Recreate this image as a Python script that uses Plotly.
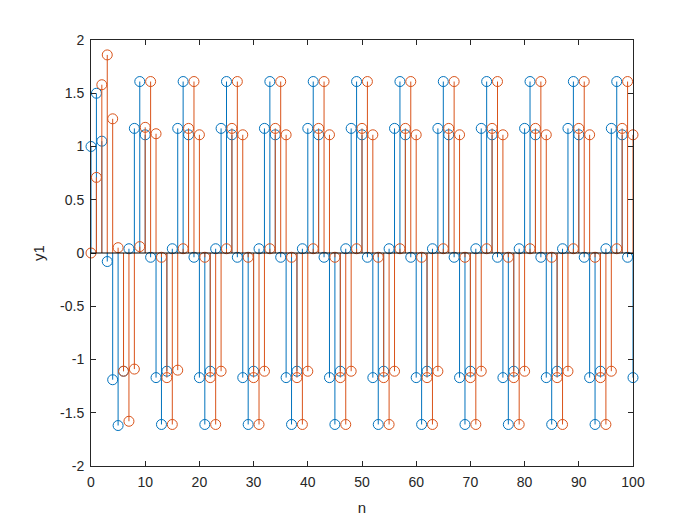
import plotly.graph_objects as go

n = list(range(101))

y_blue = [
    1.00, 1.50, 1.05, -0.08, -1.19, -1.62, -1.11, 0.04,
    1.17, 1.61, 1.11, -0.04, -1.17, -1.61, -1.11, 0.04,
    1.17, 1.61, 1.11, -0.04, -1.17, -1.61, -1.11, 0.04,
    1.17, 1.61, 1.11, -0.04, -1.17, -1.61, -1.11, 0.04,
    1.17, 1.61, 1.11, -0.04, -1.17, -1.61, -1.11, 0.04,
    1.17, 1.61, 1.11, -0.04, -1.17, -1.61, -1.11, 0.04,
    1.17, 1.61, 1.11, -0.04, -1.17, -1.61, -1.11, 0.04,
    1.17, 1.61, 1.11, -0.04, -1.17, -1.61, -1.11, 0.04,
    1.17, 1.61, 1.11, -0.04, -1.17, -1.61, -1.11, 0.04,
    1.17, 1.61, 1.11, -0.04, -1.17, -1.61, -1.11, 0.04,
    1.17, 1.61, 1.11, -0.04, -1.17, -1.61, -1.11, 0.04,
    1.17, 1.61, 1.11, -0.04, -1.17, -1.61, -1.11, 0.04,
    1.17, 1.61, 1.11, -0.04, -1.17,
]

y_orange = [
    0.00, 0.71, 1.58, 1.86, 1.26, 0.05, -1.11, -1.58, -1.09, 0.06,
    1.18, 1.61, 1.12, -0.04, -1.17, -1.61, -1.10, 0.04,
    1.17, 1.61, 1.11, -0.04, -1.17, -1.61, -1.11, 0.04,
    1.17, 1.61, 1.11, -0.04, -1.17, -1.61, -1.11, 0.04,
    1.17, 1.61, 1.11, -0.04, -1.17, -1.61, -1.11, 0.04,
    1.17, 1.61, 1.11, -0.04, -1.17, -1.61, -1.11, 0.04,
    1.17, 1.61, 1.11, -0.04, -1.17, -1.61, -1.11, 0.04,
    1.17, 1.61, 1.11, -0.04, -1.17, -1.61, -1.11, 0.04,
    1.17, 1.61, 1.11, -0.04, -1.17, -1.61, -1.11, 0.04,
    1.17, 1.61, 1.11, -0.04, -1.17, -1.61, -1.11, 0.04,
    1.17, 1.61, 1.11, -0.04, -1.17, -1.61, -1.11, 0.04,
    1.17, 1.61, 1.11, -0.04, -1.17, -1.61, -1.11, 0.04,
    1.17, 1.61, 1.11,
]

x_ticks = [0, 10, 20, 30, 40, 50, 60, 70, 80, 90, 100]
y_ticks = [-2, -1.5, -1, -0.5, 0, 0.5, 1, 1.5, 2]
y_tick_labels = ["-2", "-1.5", "-1", "-0.5", "0", "0.5", "1", "1.5", "2"]

BLUE = "#0072BD"
ORANGE = "#D95319"
AXC = "#262626"


def stem_xy(xs, ys):
    sx, sy = [], []
    for x, y in zip(xs, ys):
        sx += [x, x, None]
        sy += [0, y, None]
    return sx, sy


fig = go.Figure()
for ys, col in [(y_blue, BLUE), (y_orange, ORANGE)]:
    sx, sy = stem_xy(n, ys)
    fig.add_trace(go.Scatter(x=sx, y=sy, mode="lines",
                             line=dict(color=col, width=1),
                             hoverinfo="skip", showlegend=False))
    fig.add_trace(go.Scatter(x=n, y=ys, mode="markers", cliponaxis=False,
                             marker=dict(symbol="circle-open", size=10,
                                         color=col, line=dict(color=col, width=1)),
                             showlegend=False))

# stem baseline
fig.add_shape(type="line", xref="x", yref="y", x0=0, x1=100, y0=0, y1=0,
              line=dict(color="black", width=1), layer="above")

fig.update_layout(
    width=700, height=525,
    paper_bgcolor="white", plot_bgcolor="white",
    margin=dict(l=83, r=75, t=32, b=67),
    font=dict(family="Liberation Sans, Arial, sans-serif", size=14, color=AXC),
    showlegend=False,
)
fig.update_xaxes(
    range=[0, 100], tickvals=x_ticks, ticks="inside", ticklen=5,
    tickcolor=AXC, showline=True, linecolor=AXC, linewidth=1, mirror="ticks",
    showgrid=False, zeroline=False, ticklabelstandoff=3,
    title=dict(text="n", font=dict(size=15), standoff=13),
)
fig.update_yaxes(
    range=[-2, 2], tickvals=y_ticks, ticktext=y_tick_labels, ticks="inside",
    ticklen=5, tickcolor=AXC, showline=True, linecolor=AXC, linewidth=1,
    mirror="ticks", showgrid=False, zeroline=False, ticklabelstandoff=3,
    title=dict(text="y1", font=dict(size=15), standoff=11),
)

fig.write_html("out.html")
